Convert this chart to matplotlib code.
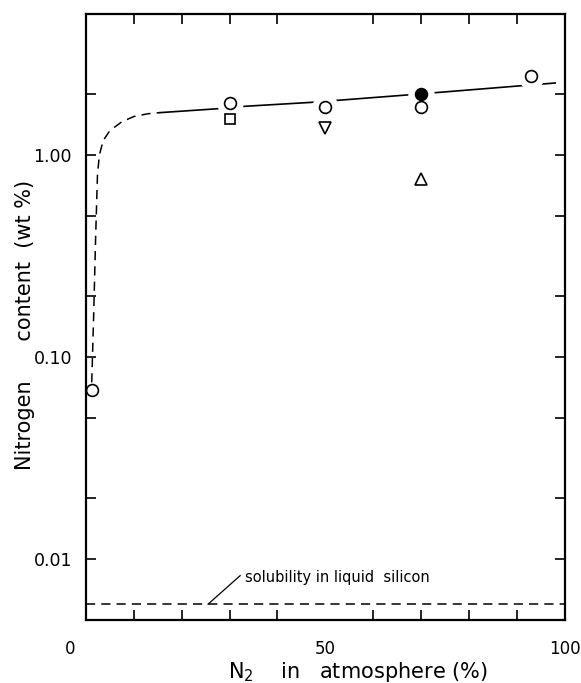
import numpy as np
import matplotlib
matplotlib.use('Agg')
from matplotlib import pyplot as plt
from matplotlib.ticker import FixedLocator, NullFormatter
import matplotlib.transforms as mtransforms

# measured points, N2 in atmosphere (%) vs nitrogen content (wt %)
open_x = [1.2, 30, 50, 70, 93]
open_y = [0.069, 1.81, 1.73, 1.73, 2.46]
filled_x = [70]
filled_y = [2.0]
square_x = [30]
square_y = [1.51]
down_x = [50]
down_y = [1.36]
up_x = [70]
up_y = [0.76]

# drawn curve (dashed part at low N2, solid part above)
curve_dash_x = [1.2, 1.6, 2.0, 2.4, 2.8, 3.6, 5.0, 7.5, 10.0, 13.0, 15.5]
curve_dash_y = [0.075, 0.16, 0.38, 0.8, 1.0, 1.18, 1.32, 1.46, 1.55, 1.6, 1.62]
curve_solid_x = [15.5, 27, 33, 47, 67, 98]
curve_solid_y = [1.62, 1.69, 1.74, 1.82, 1.98, 2.27]

solubility = 0.006

fig = plt.figure(figsize=(5.81, 6.83), dpi=100)
ax = fig.add_axes([0.148, 0.092, 0.824, 0.888])

dash = (0, (6, 4))
ax.plot(curve_dash_x, curve_dash_y, color='black', lw=1.1, ls=dash)
ax.plot(curve_solid_x, curve_solid_y, color='black', lw=1.2, ls='-')
ax.plot([0, 100], [solubility, solubility], color='black', lw=1.1, ls=dash)

# white halos under the markers on the curve so the line breaks around them
halo_x = open_x[1:] + filled_x
halo_y = open_y[1:] + filled_y
ax.plot(halo_x, halo_y, 'o', ms=19, mfc='white', mec='none', zorder=3)

ax.plot(open_x, open_y, 'o', ms=8.5, mfc='white', mec='black', mew=1.2, zorder=4)
ax.plot(filled_x, filled_y, 'o', ms=8.5, mfc='black', mec='black', mew=1.2, zorder=5)
ax.plot(square_x, square_y, 's', ms=7.5, mfc='white', mec='black', mew=1.2, zorder=4)
ax.plot(down_x, down_y, 'v', ms=8.5, mfc='white', mec='black', mew=1.2, zorder=4)
ax.plot(up_x, up_y, '^', ms=8.5, mfc='white', mec='black', mew=1.2, zorder=4)

# label for the solubility line with a short leader
ax.plot([25.5, 32.2], [solubility, 0.0083], color='black', lw=0.9)
ax.text(33.2, 0.0081, 'solubility in liquid  silicon', fontsize=10.5,
        ha='left', va='center')

ax.set_yscale('log')
ax.set_xlim(0, 100)
ax.set_ylim(0.005, 5)

ax.yaxis.set_major_locator(FixedLocator([0.01, 0.1, 1.0]))
ax.set_yticklabels(['0.01', '0.10', '1.00'])
ax.yaxis.set_minor_locator(FixedLocator([0.005, 0.02, 0.05, 0.2, 0.5, 2, 5]))
ax.yaxis.set_minor_formatter(NullFormatter())

ax.xaxis.set_major_locator(FixedLocator([0, 50, 100]))
ax.set_xticklabels(['0', '50', '100'])
ax.xaxis.set_minor_locator(FixedLocator(np.arange(10, 100, 10)))

ax.tick_params(which='both', direction='in', top=True, right=True, length=7, width=1.2)
ax.tick_params(axis='x', which='major', length=0, pad=14, labelsize=12)
ax.tick_params(axis='y', which='major', pad=10, labelsize=12.5)

# the "0" sits left of the axis corner in the original
labs = ax.get_xticklabels()
labs[0].set_transform(labs[0].get_transform() +
                      mtransforms.ScaledTranslation(-0.16, 0, fig.dpi_scale_trans))

for s in ax.spines.values():
    s.set_linewidth(1.6)

ax.set_ylabel('Nitrogen      content  (wt %)', fontsize=15)
ax.yaxis.set_label_coords(-0.127, 0.487)
ax.set_xlabel(r'N$_2$    in   atmosphere (%)', fontsize=15)
ax.xaxis.set_label_coords(0.568, -0.086)
ax.xaxis.label.set_va('center')
ax.yaxis.label.set_va('center')

fig.savefig('out.png', dpi=100)
